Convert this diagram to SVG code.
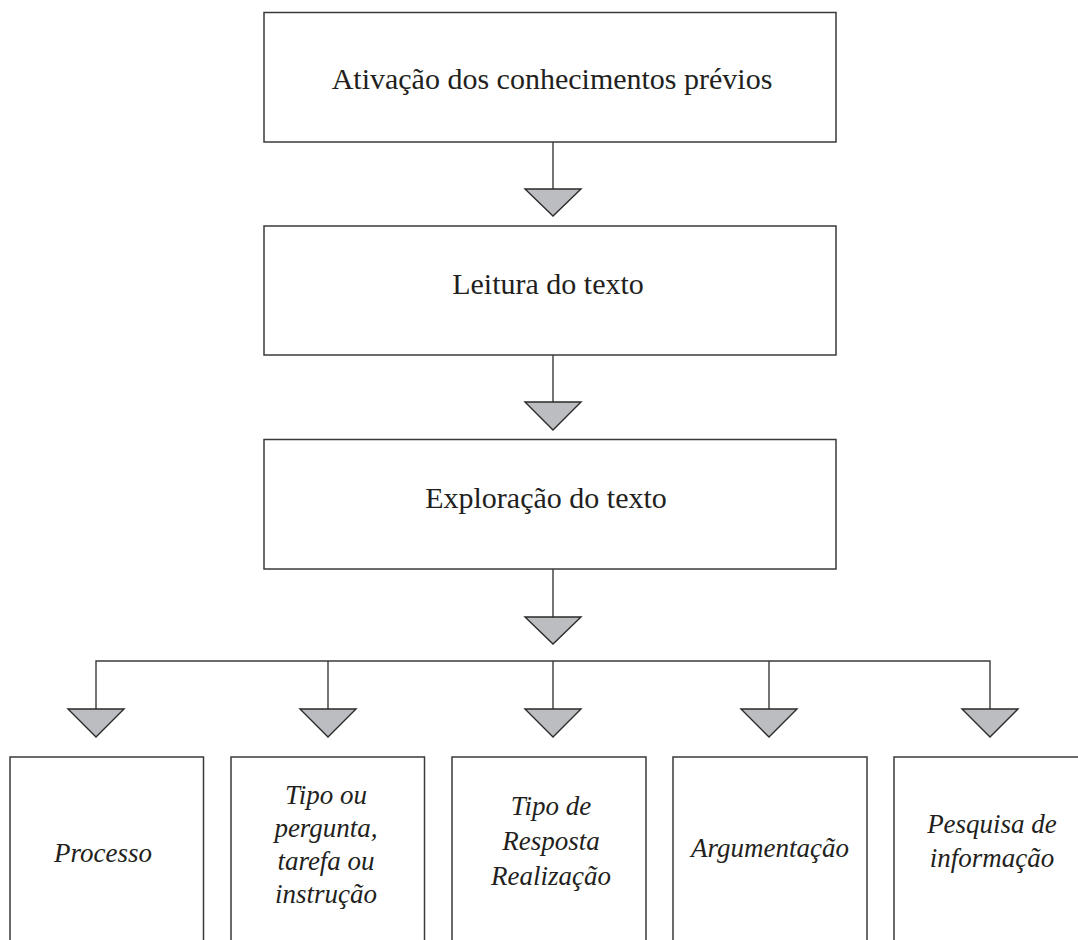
<svg xmlns="http://www.w3.org/2000/svg" width="1078" height="940" viewBox="0 0 1078 940">
<defs>
<style>
.box{fill:#ffffff;stroke:#3a3a3a;stroke-width:1.5}
.tri{fill:#bcbdc0;stroke:#2a2a2a;stroke-width:1.4;stroke-linejoin:miter}
.ln{fill:none;stroke:#3a3a3a;stroke-width:1.4}
.t{font-family:"Liberation Serif","Times New Roman",serif;font-size:30px;fill:#231f20;text-anchor:middle}
.ti{font-family:"Liberation Serif","Times New Roman",serif;font-size:27px;font-style:italic;fill:#231f20;text-anchor:middle}
</style>
</defs>
<rect width="1078" height="940" fill="#ffffff"/>
<g id="connectors">
<line class="ln" x1="553" y1="142" x2="553" y2="189"/>
<polygon class="tri" points="525,189 581,189 553,216"/>
<line class="ln" x1="553" y1="355" x2="553" y2="402"/>
<polygon class="tri" points="525,402 581,402 553,430"/>
<line class="ln" x1="553" y1="569" x2="553" y2="617"/>
<polygon class="tri" points="525,617 581,617 553,644"/>
<polyline class="ln" points="96,709 96,661 990,661 990,709"/>
<line class="ln" x1="328" y1="661" x2="328" y2="709"/>
<line class="ln" x1="553" y1="661" x2="553" y2="709"/>
<line class="ln" x1="769" y1="661" x2="769" y2="709"/>
<polygon class="tri" points="68,709 124,709 96,737"/>
<polygon class="tri" points="300,709 356,709 328,737"/>
<polygon class="tri" points="525,709 581,709 553,737"/>
<polygon class="tri" points="741,709 797,709 769,737"/>
<polygon class="tri" points="962,709 1018,709 990,737"/>
</g>
<g id="node-ativacao">
<rect class="box" x="264" y="12.5" width="572" height="129.5"/>
<text class="t" x="552" y="89">Ativação dos conhecimentos prévios</text>
</g>
<g id="node-leitura">
<rect class="box" x="264" y="226" width="572" height="129"/>
<text class="t" x="548" y="294">Leitura do texto</text>
</g>
<g id="node-exploracao">
<rect class="box" x="264" y="439.5" width="572" height="129.5"/>
<text class="t" x="546" y="508">Exploração do texto</text>
</g>
<g id="node-processo">
<rect class="box" x="10" y="757" width="193.5" height="200"/>
<text class="ti" x="103" y="862">Processo</text>
</g>
<g id="node-tipo-pergunta">
<rect class="box" x="231" y="757" width="193.5" height="200"/>
<text class="ti" x="326" y="804">Tipo ou</text>
<text class="ti" x="326" y="837">pergunta,</text>
<text class="ti" x="326" y="870">tarefa ou</text>
<text class="ti" x="326" y="903">instrução</text>
</g>
<g id="node-tipo-resposta">
<rect class="box" x="452" y="757" width="194" height="200"/>
<text class="ti" x="551" y="815">Tipo de</text>
<text class="ti" x="551" y="850">Resposta</text>
<text class="ti" x="551" y="885">Realização</text>
</g>
<g id="node-argumentacao">
<rect class="box" x="673" y="757" width="194" height="200"/>
<text class="ti" x="770" y="857">Argumentação</text>
</g>
<g id="node-pesquisa">
<rect class="box" x="894" y="757" width="194" height="200"/>
<text class="ti" x="992" y="833">Pesquisa de</text>
<text class="ti" x="992" y="867">informação</text>
</g>
</svg>
